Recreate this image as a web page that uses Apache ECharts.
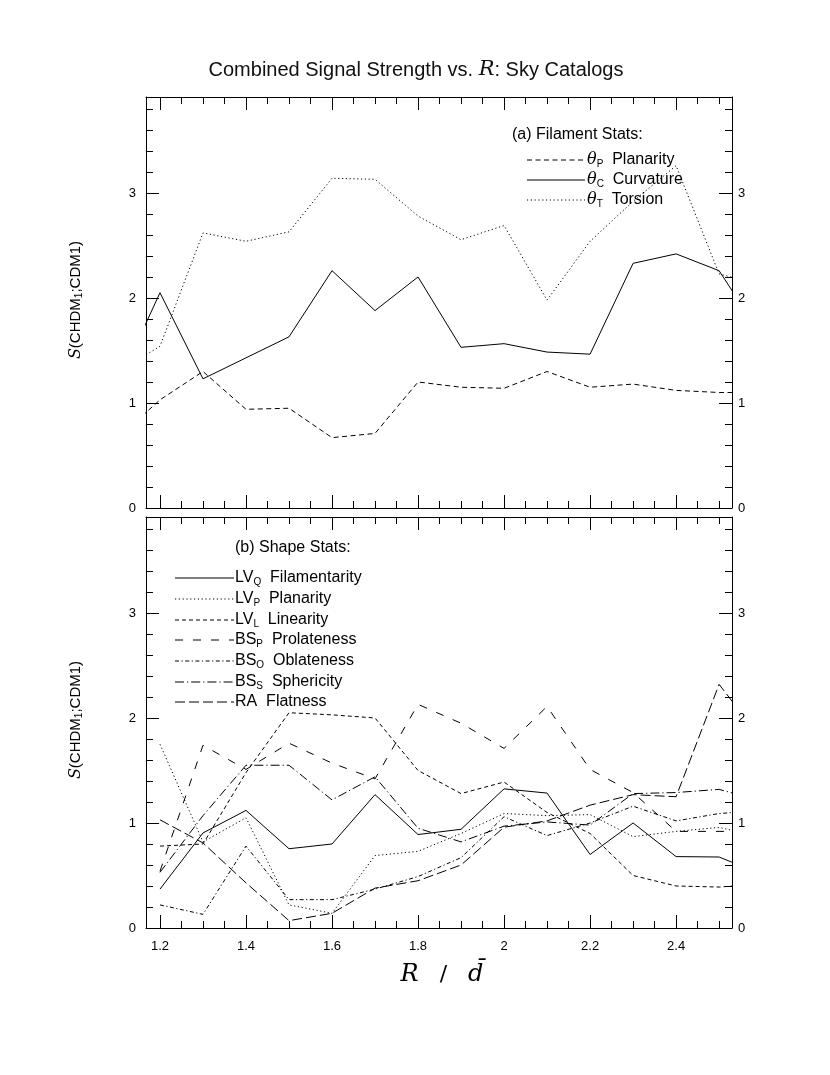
<!DOCTYPE html>
<html>
<head>
<meta charset="utf-8">
<script src="https://cdn.jsdelivr.net/npm/echarts@6/dist/echarts.min.js"></script>
<style>html,body{margin:0;padding:0;background:#fff;}#c{width:830px;height:1075px;}</style>
</head>
<body>
<div id="c"></div>
<script>
// ---------- data ----------
const xTop = [1.1, 1.2, 1.3, 1.4, 1.5, 1.6, 1.7, 1.8, 1.9, 2.0, 2.1, 2.2, 2.3, 2.4, 2.5, 2.6];
const thetaP = [0.66, 1.03, 1.30, 0.94, 0.95, 0.67, 0.71, 1.20, 1.15, 1.14, 1.30, 1.15, 1.18, 1.12, 1.10, 1.10];
const thetaC = [1.16, 2.05, 1.23, 1.43, 1.63, 2.26, 1.88, 2.20, 1.53, 1.565, 1.485, 1.465, 2.33, 2.42, 2.26, 1.63];
const thetaT = [1.29, 1.54, 2.62, 2.54, 2.63, 3.14, 3.13, 2.78, 2.555, 2.69, 1.98, 2.54, 2.92, 3.26, 2.23, 2.12];

const xBot = [1.2, 1.3, 1.4, 1.5, 1.6, 1.7, 1.8, 1.9, 2.0, 2.1, 2.2, 2.3, 2.4, 2.5, 2.6];
const lvQ = [0.37, 0.905, 1.12, 0.755, 0.80, 1.27, 0.89, 0.94, 1.325, 1.285, 0.70, 1.00, 0.68, 0.676, 0.51];
const lvP = [1.75, 0.82, 1.05, 0.22, 0.14, 0.69, 0.73, 0.90, 1.09, 1.07, 1.08, 0.87, 0.92, 0.958, 0.865];
const lvL = [0.78, 0.80, 1.48, 2.05, 2.03, 2.00, 1.50, 1.28, 1.39, 1.10, 0.90, 0.50, 0.40, 0.39, 0.42];
const bsP = [0.54, 1.74, 1.51, 1.76, 1.57, 1.42, 2.13, 1.95, 1.71, 2.11, 1.51, 1.29, 0.92, 0.92, 0.92];
const bsO = [0.22, 0.13, 0.78, 0.27, 0.27, 0.37, 0.49, 0.67, 1.06, 0.88, 1.00, 1.16, 1.02, 1.09, 1.12];
const bsS = [0.53, 1.07, 1.55, 1.55, 1.22, 1.44, 0.95, 0.82, 0.97, 1.01, 0.98, 1.28, 1.29, 1.32, 1.21];
const raF = [1.03, 0.81, 0.43, 0.07, 0.14, 0.38, 0.45, 0.60, 0.96, 1.02, 1.17, 1.27, 1.25, 2.32, 1.79];

const X_MIN = 1.1675, X_MAX = 2.53;
const Y_MIN = 0, Y_MAX = 3.914;

// ---------- styles ----------
const DASH = {
  solid: 'solid',
  dash: [5, 3.5],
  dot: [1.2, 2.6],
  shortDash: [4, 3],
  longDash: [8, 10],
  dashDot: [4, 2.5, 1.2, 2.5],
  longDashDot: [9, 3, 1.2, 3],
  raDash: [10, 4]
};

const FONT = 'Liberation Sans, Arial, sans-serif';

function xAx(gridIndex, position, showLabels) {
  return {
    type: 'value', gridIndex, position, min: X_MIN, max: X_MAX,
    minInterval: 0.2, maxInterval: 0.2, splitNumber: 7,
    axisLine: {show: true, onZero: false, lineStyle: {color: '#000', width: 1}},
    axisTick: {show: true, inside: true, length: 13, lineStyle: {color: '#000', width: 1}},
    minorTick: {show: true, splitNumber: 4, length: 7, lineStyle: {color: '#000', width: 1}},
    axisLabel: {show: showLabels, showMinLabel: false, showMaxLabel: false, margin: 12,
      color: '#000', fontSize: 13, fontFamily: FONT},
    splitLine: {show: false}, minorSplitLine: {show: false}
  };
}
function yAx(gridIndex, position) {
  return {
    type: 'value', gridIndex, position, min: Y_MIN, max: Y_MAX, interval: 1,
    axisLine: {show: true, onZero: false, lineStyle: {color: '#000', width: 1}},
    axisTick: {show: true, inside: true, length: 13, lineStyle: {color: '#000', width: 1}},
    minorTick: {show: true, splitNumber: 5, length: 7, lineStyle: {color: '#000', width: 1}},
    axisLabel: {show: true, showMaxLabel: false, showMinLabel: true, margin: position === 'left' ? 10 : 6,
      color: '#000', fontSize: 13, fontFamily: FONT},
    splitLine: {show: false}, minorSplitLine: {show: false}
  };
}

function ser(name, xs, ys, xi, yi, type) {
  return {
    name, type: 'line', xAxisIndex: xi, yAxisIndex: yi,
    data: xs.map((x, i) => [x, ys[i]]),
    symbol: 'none', clip: true, silent: true,
    lineStyle: {color: '#000', width: 1, type: type}
  };
}

// legend helpers (graphics)
const subRich = {
  n: {fontSize: 16, fontFamily: FONT, fill: '#000'},
  th: {fontSize: 16, fontFamily: 'DejaVu Serif', fontStyle: 'italic', fill: '#000'},
  s: {fontSize: 10, fontFamily: FONT, fill: '#000', padding: [8, 0, 0, 0]}
};
function legLine(x1, x2, y, dash) {
  return {type: 'line', silent: true, shape: {x1, y1: y, x2, y2: y},
    style: {stroke: '#000', lineWidth: 1, lineDash: dash === 'solid' ? null : dash}};
}
function legText(x, y, text) {
  return {type: 'text', silent: true, x, y,
    style: {text, rich: subRich, fill: '#000', font: '16px ' + FONT, align: 'left', verticalAlign: 'middle'}};
}

const graphics = [
  {type: 'text', silent: true, x: 416, y: 70,
    style: {text: 'Combined Signal Strength vs. {r|R}: Sky Catalogs', align: 'center', verticalAlign: 'middle',
      font: '20px ' + FONT, fill: '#111',
      rich: {r: {fontSize: 21, fontFamily: 'DejaVu Serif', fontStyle: 'italic', fill: '#111'}}}},
  {type: 'text', silent: true, x: 442, y: 975,
    style: {text: '{r|R}{n|   /   }{r|d\u0304}', align: 'center', verticalAlign: 'middle', fill: '#000',
      rich: {r: {fontSize: 24, fontFamily: 'DejaVu Serif', fontStyle: 'italic', fill: '#000'},
             n: {fontSize: 22, fontFamily: 'DejaVu Sans', fill: '#000'}}}},
  {type: 'text', silent: true, x: 76, y: 300, rotation: Math.PI / 2,
    style: {text: '{i|S}(CHDM{s|1};CDM1)', align: 'center', verticalAlign: 'middle', fill: '#000',
      font: '15px ' + FONT,
      rich: {i: {fontSize: 16, fontFamily: 'DejaVu Serif', fontStyle: 'italic', fill: '#000'},
             s: {fontSize: 10, fontFamily: FONT, fill: '#000', padding: [7, 0, 0, 0]}}}},
  {type: 'text', silent: true, x: 76, y: 720, rotation: Math.PI / 2,
    style: {text: '{i|S}(CHDM{s|1};CDM1)', align: 'center', verticalAlign: 'middle', fill: '#000',
      font: '15px ' + FONT,
      rich: {i: {fontSize: 16, fontFamily: 'DejaVu Serif', fontStyle: 'italic', fill: '#000'},
             s: {fontSize: 10, fontFamily: FONT, fill: '#000', padding: [7, 0, 0, 0]}}}},
  // legend (a)
  legText(512, 135, '(a) Filament Stats:'),
  legLine(527, 585, 160, DASH.dash), legText(587, 160, '{th|θ}{s|P}  Planarity'),
  legLine(527, 585, 180, DASH.solid), legText(587, 180, '{th|θ}{s|C}  Curvature'),
  legLine(527, 585, 200, DASH.dot), legText(587, 200, '{th|θ}{s|T}  Torsion'),
  // legend (b)
  legText(235, 548, '(b) Shape Stats:'),
  legLine(175, 234, 578, DASH.solid), legText(235, 578, 'LV{s|Q}  Filamentarity'),
  legLine(175, 234, 599, DASH.dot), legText(235, 599, 'LV{s|P}  Planarity'),
  legLine(175, 234, 620, DASH.shortDash), legText(235, 620, 'LV{s|L}  Linearity'),
  legLine(175, 234, 640, DASH.longDash), legText(235, 640, 'BS{s|P}  Prolateness'),
  legLine(175, 234, 661, DASH.dashDot), legText(235, 661, 'BS{s|O}  Oblateness'),
  legLine(175, 234, 682, DASH.longDashDot), legText(235, 682, 'BS{s|S}  Sphericity'),
  legLine(175, 234, 702, DASH.raDash), legText(235, 702, 'RA  Flatness')
];

const option = {
  animation: false,
  backgroundColor: '#fff',
  grid: [
    {left: 146, top: 97, width: 586, height: 411, containLabel: false},
    {left: 146, top: 517, width: 586, height: 411, containLabel: false}
  ],
  xAxis: [xAx(0, 'bottom', false), xAx(0, 'top', false), xAx(1, 'bottom', true), xAx(1, 'top', false)],
  yAxis: [yAx(0, 'left'), yAx(0, 'right'), yAx(1, 'left'), yAx(1, 'right')],
  series: [
    ser('θP Planarity', xTop, thetaP, 0, 0, DASH.dash),
    ser('θC Curvature', xTop, thetaC, 0, 0, DASH.solid),
    ser('θT Torsion', xTop, thetaT, 0, 0, DASH.dot),
    ser('LVQ Filamentarity', xBot, lvQ, 2, 2, DASH.solid),
    ser('LVP Planarity', xBot, lvP, 2, 2, DASH.dot),
    ser('LVL Linearity', xBot, lvL, 2, 2, DASH.shortDash),
    ser('BSP Prolateness', xBot, bsP, 2, 2, DASH.longDash),
    ser('BSO Oblateness', xBot, bsO, 2, 2, DASH.dashDot),
    ser('BSS Sphericity', xBot, bsS, 2, 2, DASH.longDashDot),
    ser('RA Flatness', xBot, raF, 2, 2, DASH.raDash)
  ],
  graphic: graphics
};

const chart = echarts.init(document.getElementById('c'), null, {renderer: 'canvas'});
chart.setOption(option);
</script>
</body>
</html>
